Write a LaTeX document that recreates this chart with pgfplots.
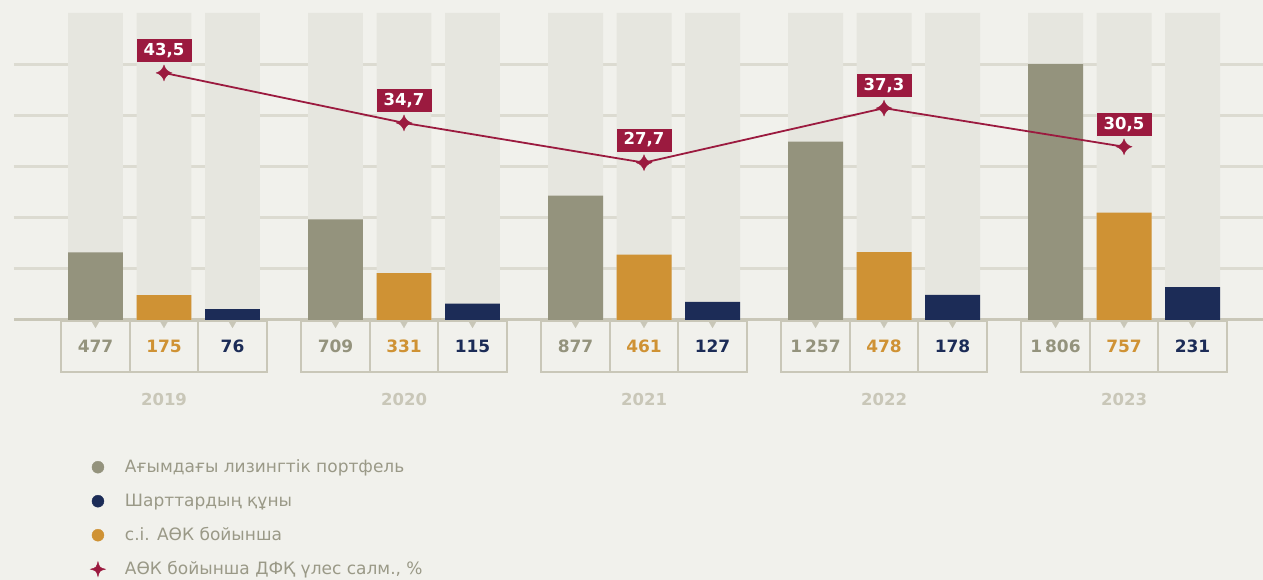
\documentclass[border=0pt]{standalone}
\usepackage{pgfplots}
\usepackage{pgfplotstable}
\pgfplotsset{compat=1.18}
\usepackage{fontspec}
\setmainfont{DejaVu Sans}

\definecolor{bgc}{HTML}{F1F1EC}
\definecolor{barbg}{HTML}{E6E6DF}
\definecolor{gridc}{HTML}{DCDBD1}
\definecolor{basec}{HTML}{C9C7B8}
\definecolor{greyc}{HTML}{94937D}
\definecolor{orangec}{HTML}{CF9234}
\definecolor{navyc}{HTML}{1C2C57}
\definecolor{crimson}{HTML}{9B1A3F}
\definecolor{yearc}{HTML}{C9C7B8}
\definecolor{legc}{HTML}{9A9987}

% four-point star
\pgfdeclareplotmark{sparkle}{%
  \pgfpathmoveto{\pgfpoint{0pt}{\pgfplotmarksize}}%
  \pgfpathquadraticcurveto{\pgfpoint{0.22\pgfplotmarksize}{0.22\pgfplotmarksize}}{\pgfpoint{\pgfplotmarksize}{0pt}}%
  \pgfpathquadraticcurveto{\pgfpoint{0.22\pgfplotmarksize}{-0.22\pgfplotmarksize}}{\pgfpoint{0pt}{-\pgfplotmarksize}}%
  \pgfpathquadraticcurveto{\pgfpoint{-0.22\pgfplotmarksize}{-0.22\pgfplotmarksize}}{\pgfpoint{-\pgfplotmarksize}{0pt}}%
  \pgfpathquadraticcurveto{\pgfpoint{-0.22\pgfplotmarksize}{0.22\pgfplotmarksize}}{\pgfpoint{0pt}{\pgfplotmarksize}}%
  \pgfpathclose
  \pgfusepathqfillstroke
}

\pgfplotstableread{
i portf dfk cost pct
0 477 175 76 43.5
1 709 331 115 34.7
2 877 461 127 27.7
3 1257 478 178 37.3
4 1806 757 231 30.5
}\data

\pgfplotsset{
  common/.style={
    at={(14pt,260pt)}, anchor=south west,
    scale only axis, width=1249pt, height=307pt,
    xmin=-0.625, xmax=4.579, clip=false,
  },
  bg bar/.style={ybar, bar width=0.229, bar shift=0pt, fill=barbg, draw=none, forget plot},
  data bar/.style={ybar, bar width=0.229, bar shift=0pt, fill=#1, draw=none, forget plot},
  valbox/.style={only marks, forget plot, mark=triangle*, mark size=5pt,
    mark options={yshift=-3pt, rotate=180, fill=basec, draw=basec, line width=0.1pt},
    nodes near coords,
    every node near coord/.append style={anchor=north, draw=basec, line width=2pt,
      outer sep=0pt, yshift=2pt,
      minimum width=68.5pt, minimum height=51pt, inner sep=0pt,
      font=\fontsize{17}{20}\selectfont\bfseries, text=#1}},
}

\begin{document}
\begin{tikzpicture}
\fill[bgc, use as bounding box] (0,0) rectangle (1263pt,580pt);
\begin{axis}[common,
  ymin=0, ymax=2165,
  axis line style={draw=none},
  major tick length=0pt,
  xtick={0,...,4}, xticklabels={2019,2020,2021,2022,2023},
  xticklabel style={anchor=base, yshift=-86pt, font=\fontsize{16.5}{20}\selectfont\bfseries, text=yearc},
  ytick={360,720,1080,1440,1800}, yticklabels={},
  ymajorgrids, grid style={line width=3pt, gridc},
  extra y ticks={0}, extra y tick labels={},
  extra y tick style={grid style={line width=3pt, basec}},
  /pgf/number format/.cd, 1000 sep={\,}, assume math mode=true, /pgfplots/.cd,
  legend style={at={(rel axis cs:0.0609,-0.4495)}, anchor=north west,
    draw=none, fill=none, inner sep=0pt, row sep=16pt,
    font=\fontsize{17}{20}\selectfont, text=legc,
    nodes={inner sep=0pt, text height=14pt, text depth=4pt}},
  legend cell align=left,
]
% background columns
\addplot[bg bar] table[x expr=\thisrow{i}-0.2854, y expr=2165] \data;
\addplot[bg bar] table[x expr=\thisrow{i}, y expr=2165] \data;
\addplot[bg bar] table[x expr=\thisrow{i}+0.2854, y expr=2165] \data;
% data
\addplot[data bar=greyc] table[x expr=\thisrow{i}-0.2854, y=portf] \data;
\addplot[data bar=orangec] table[x expr=\thisrow{i}, y=dfk] \data;
\addplot[data bar=navyc] table[x expr=\thisrow{i}+0.2854, y=cost] \data;
% value boxes under the bars
\addplot[valbox=greyc, point meta=\thisrow{portf}] table[x expr=\thisrow{i}-0.2854, y expr=0] \data;
\addplot[valbox=orangec, point meta=\thisrow{dfk}] table[x expr=\thisrow{i}, y expr=0] \data;
\addplot[valbox=navyc, point meta=\thisrow{cost}] table[x expr=\thisrow{i}+0.2854, y expr=0] \data;

\addlegendimage{legend image code/.code={\path[draw=none] (-6pt,0)--(27pt,0); \fill[greyc] (0,0) circle (6pt);}}
\addlegendentry{Ағымдағы лизингтік портфель}
\addlegendimage{legend image code/.code={\path[draw=none] (-6pt,0)--(27pt,0); \fill[navyc] (0,0) circle (6pt);}}
\addlegendentry{Шарттардың құны}
\addlegendimage{legend image code/.code={\path[draw=none] (-6pt,0)--(27pt,0); \fill[orangec] (0,0) circle (6pt);}}
\addlegendentry{с.і. АӨК бойынша}
\addlegendimage{legend image code/.code={\path[draw=none] (-6pt,0)--(27pt,0);
  \fill[crimson] (0,7.5pt) .. controls (1.6pt,1.6pt) .. (7.5pt,0) .. controls (1.6pt,-1.6pt) .. (0,-7.5pt)
   .. controls (-1.6pt,-1.6pt) .. (-7.5pt,0) .. controls (-1.6pt,1.6pt) .. cycle;}}
\addlegendentry{АӨК бойынша ДФҚ үлес салм., \%}
\end{axis}

\begin{axis}[common, ymin=0, ymax=54.05, hide axis,
  /pgf/number format/.cd, use comma, fixed, fixed zerofill, precision=1, assume math mode=true, /pgfplots/.cd]
\addplot[crimson, line width=1.8pt, mark=sparkle, mark size=8pt,
  mark options={fill=crimson, draw=crimson, line width=0.3pt},
  nodes near coords,
  every node near coord/.append style={anchor=south, yshift=11pt, fill=crimson, text=white,
    font=\fontsize{16.5}{20}\selectfont\bfseries, minimum width=55pt, minimum height=23pt, inner sep=0pt}]
  table[x=i, y=pct] \data;
\end{axis}
\end{tikzpicture}
\end{document}
